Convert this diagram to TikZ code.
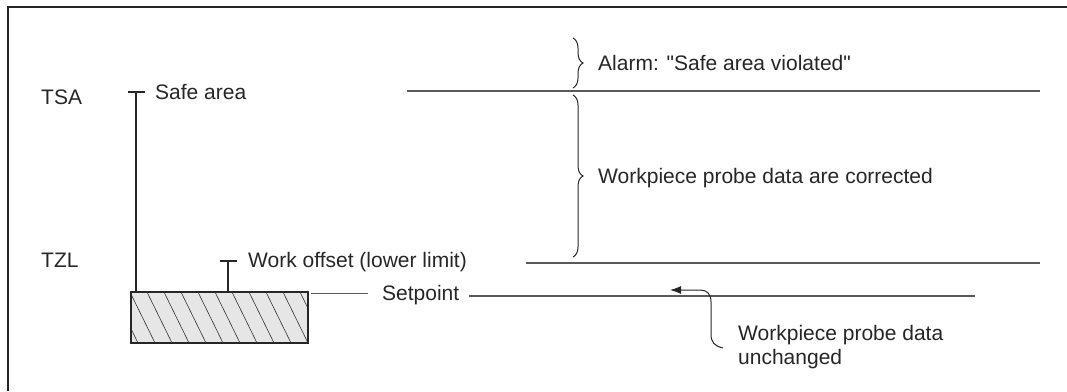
\documentclass[tikz,border=0pt]{standalone}
\usepackage{fontspec}
\setmainfont{Liberation Sans}
\newfontfamily\lblfont{Liberation Sans}
\usetikzlibrary{decorations.pathreplacing,arrows.meta}
\definecolor{txt}{HTML}{262626}
\definecolor{ln}{HTML}{5A5A5A}
\definecolor{boxfill}{HTML}{E6E6E6}
\begin{document}
\begin{tikzpicture}[x=1pt,y=-1pt,
  lbl/.style={inner sep=0pt, anchor=base west, text=txt, font=\lblfont\fontsize{21}{25}\selectfont},
  frameline/.style={line width=1.6pt, draw=black!85},
  darkline/.style={line width=1.4pt, draw=black!85},
  levelline/.style={line width=1.3pt, draw=ln},
  bracestyle/.style={line width=1pt, draw=txt, decorate, decoration={brace, amplitude=10pt}},
  hatch/.style={line width=0.6pt, draw=black!80}
]
\useasboundingbox (0,0) rectangle (1067,391);
% frame
\coordinate (fbl) at (8,391);
\coordinate (ftl) at (8,7);
\coordinate (ftr) at (1067,7);
\draw[frameline] (fbl) -- (ftl) -- (ftr);

% labels
\node[lbl] (tsa) at (41,104) {TSA};
\node[lbl] (safe) at (155,99) {Safe area};
\node[lbl] (tzl) at (41,267) {TZL};
\node[lbl] (wo) at (248,267) {Work offset (lower limit)};
\node[lbl] (sp) at (382,300) {Setpoint};
\node[lbl] (alarm) at (598,70) {Alarm: "Safe area violated"};
\node[lbl] (corr) at (598,183) {Workpiece probe data are corrected};
\node[lbl] (unch1) at (738,340) {Workpiece probe data};
\node[lbl] (unch2) at (738,364) {unchanged};

% workpiece box
\coordinate (bx1) at (131,292);
\coordinate (bx2) at (308,343);
\fill[boxfill] (bx1) rectangle (bx2);
\begin{scope}
  \clip (bx1) rectangle (bx2);
  \foreach \x in {-40,-23,...,320} {
    \draw[hatch] (\x,292) -- (\x+25,343);
  }
\end{scope}
\draw[darkline] (bx1) rectangle (bx2);
\draw[line width=2pt, draw=black!85] (bx1) -- (308,292);

% safe area tick
\coordinate (sat) at (136,92);
\coordinate (sab) at (136,292);
\draw[darkline] (128,92) -- (145,92);
\draw[darkline] (sat) -- (sab);

% work offset tick
\coordinate (wot) at (228,261);
\coordinate (wob) at (228,292);
\draw[darkline] (220,261) -- (237,261);
\draw[darkline] (wot) -- (wob);

% level lines
\coordinate (tsa1) at (407,91);
\coordinate (tsa2) at (1040,91);
\draw[levelline] (tsa1) -- (tsa2);
\coordinate (tzl1) at (526,263);
\coordinate (tzl2) at (1040,263);
\draw[levelline] (tzl1) -- (tzl2);

% setpoint lines
\coordinate (sp1) at (311,293);
\coordinate (sp2) at (368,293);
\draw[line width=1pt, draw=ln] (sp1) -- (sp2);
\coordinate (sp3) at (469,296);
\coordinate (sp4) at (975,296);
\draw[levelline] (sp3) -- (sp4);

% braces
\coordinate (b1t) at (573,38);
\coordinate (b1b) at (573,88);
\draw[bracestyle] (b1t) -- (b1b);
\coordinate (b2t) at (573,95);
\coordinate (b2b) at (573,257);
\draw[bracestyle] (b2t) -- (b2b);

% arrow
\coordinate (arS) at (723,348);
\coordinate (arE) at (670,290);
\draw[line width=1pt, draw=txt, -{Latex[length=11pt,width=8pt]}]
  (arS) .. controls (714,346) and (711,342) .. (711,334) -- (711,302)
  .. controls (711,294) and (707,290) .. (700,290) -- (arE);
\end{tikzpicture}
\end{document}
